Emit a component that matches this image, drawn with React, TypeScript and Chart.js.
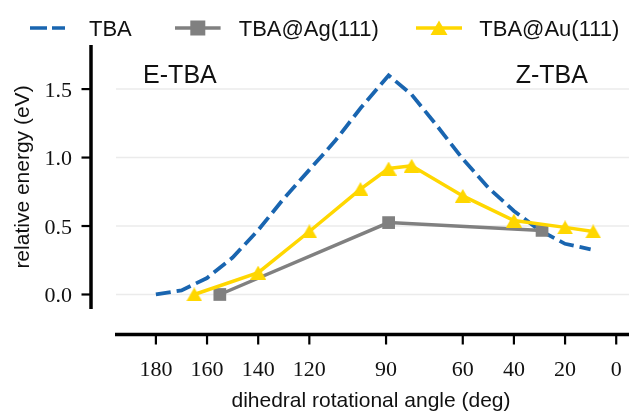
import React, { useEffect, useRef } from 'react';
import { Chart, registerables } from 'chart.js';

Chart.register(...registerables);

// ---- data ----
const seriesNames = ['TBA', 'TBA@Ag(111)', 'TBA@Au(111)'];
const tbaAngles = [180, 170, 160, 150, 140, 130, 120, 110, 100, 89, 80, 70, 60, 50, 40, 30, 20, 10];
const tbaEnergy = [0.0, 0.03, 0.12, 0.27, 0.47, 0.7, 0.91, 1.12, 1.36, 1.6, 1.46, 1.23, 0.99, 0.78, 0.61, 0.47, 0.37, 0.33];
const agAngles = [155, 89, 29];
const agEnergy = [0.0, 0.525, 0.468];
const auAngles = [165, 140, 120, 100, 89, 80, 60, 40, 20, 9];
const auEnergy = [0.0, 0.16, 0.46, 0.77, 0.92, 0.94, 0.72, 0.54, 0.49, 0.46];
const xTickValues = [180, 160, 140, 120, 90, 60, 40, 20, 0];
const yTickValues = [0, 0.5, 1.0, 1.5];
const yTickLabels = ['0.0', '0.5', '1.0', '1.5'];
const xTitle = 'dihedral rotational angle (deg)';
const yTitle = 'relative energy (eV)';
const annotationTexts = ['E-TBA', 'Z-TBA'];
const annotationX = [185, 39.3];
const annotationY = [1.545, 1.545];

const BLUE = '#1965B0';
const GRAY = '#808080';
const GOLD = '#FFD700';
const TEXT = '#111111';

function makeTriangle(w: number, h: number, color: string) {
  const c = document.createElement('canvas');
  c.width = w;
  c.height = h;
  const g = c.getContext('2d')!;
  g.fillStyle = color;
  g.beginPath();
  g.moveTo(w / 2, 0);
  g.lineTo(w, h);
  g.lineTo(0, h);
  g.closePath();
  g.fill();
  return c;
}

const axesPlugin = {
  id: 'customAxes',
  beforeDatasetsDraw(chart: any) {
    const { ctx, chartArea, scales } = chart;
    const ys = scales.y;
    ctx.save();
    ctx.strokeStyle = '#ebebeb';
    ctx.lineWidth = 1.5;
    yTickValues.forEach((v) => {
      const py = ys.getPixelForValue(v);
      ctx.beginPath();
      ctx.moveTo(chartArea.left, py);
      ctx.lineTo(chartArea.right, py);
      ctx.stroke();
    });
    ctx.restore();
  },
  afterDraw(chart: any) {
    const { ctx, chartArea, scales } = chart;
    const xs = scales.x;
    const ys = scales.y;
    const spineX = chartArea.left - 25;
    const spineY = chartArea.bottom + 25.5;
    ctx.save();
    ctx.strokeStyle = '#000';
    ctx.fillStyle = TEXT;
    ctx.setLineDash([]);

    // spines
    ctx.lineWidth = 3.5;
    ctx.beginPath();
    ctx.moveTo(spineX, chartArea.top);
    ctx.lineTo(spineX, chartArea.bottom);
    ctx.stroke();
    ctx.beginPath();
    ctx.moveTo(chartArea.left - 1, spineY);
    ctx.lineTo(chartArea.right, spineY);
    ctx.stroke();

    // ticks
    ctx.lineWidth = 2.2;
    yTickValues.forEach((v) => {
      const py = ys.getPixelForValue(v);
      ctx.beginPath();
      ctx.moveTo(spineX - 9.5, py);
      ctx.lineTo(spineX, py);
      ctx.stroke();
    });
    xTickValues.forEach((v) => {
      const px = xs.getPixelForValue(v);
      ctx.beginPath();
      ctx.moveTo(px, spineY);
      ctx.lineTo(px, spineY + 10);
      ctx.stroke();
    });

    // tick labels
    ctx.font = '22px "Liberation Serif"';
    ctx.textBaseline = 'alphabetic';
    ctx.textAlign = 'right';
    yTickValues.forEach((v, i) => {
      const py = ys.getPixelForValue(v);
      ctx.fillText(yTickLabels[i], spineX - 19, py + 7.5);
    });
    ctx.textAlign = 'center';
    xTickValues.forEach((v) => {
      const px = xs.getPixelForValue(v);
      ctx.fillText(String(v), px, spineY + 41);
    });

    // axis titles
    ctx.font = '21px "Liberation Sans"';
    ctx.textAlign = 'center';
    ctx.fillText(xTitle, (chartArea.left + chartArea.right) / 2 - 1.5, 407);
    ctx.save();
    ctx.translate(28.5, (chartArea.top + chartArea.bottom) / 2);
    ctx.rotate(-Math.PI / 2);
    ctx.fillText(yTitle, 0, 0);
    ctx.restore();

    // annotations
    ctx.font = '25px "Liberation Sans"';
    ctx.textAlign = 'left';
    annotationTexts.forEach((t, i) => {
      ctx.fillText(t, xs.getPixelForValue(annotationX[i]), ys.getPixelForValue(annotationY[i]));
    });

    // legend
    const ly = 28;
    ctx.lineWidth = 3.5;
    ctx.strokeStyle = BLUE;
    ctx.setLineDash([17, 5]);
    ctx.beginPath();
    ctx.moveTo(30, ly);
    ctx.lineTo(65, ly);
    ctx.stroke();
    ctx.setLineDash([]);
    ctx.strokeStyle = GRAY;
    ctx.beginPath();
    ctx.moveTo(175, ly);
    ctx.lineTo(220.6, ly);
    ctx.stroke();
    ctx.fillStyle = GRAY;
    ctx.fillRect(197.8 - 7.5, ly - 7.5, 15, 15);
    ctx.strokeStyle = GOLD;
    ctx.beginPath();
    ctx.moveTo(416, ly);
    ctx.lineTo(462, ly);
    ctx.stroke();
    ctx.fillStyle = GOLD;
    ctx.beginPath();
    ctx.moveTo(439, ly - 7.5);
    ctx.lineTo(447.5, ly + 7);
    ctx.lineTo(430.5, ly + 7);
    ctx.closePath();
    ctx.fill();

    ctx.fillStyle = TEXT;
    ctx.font = '22px "Liberation Sans"';
    ctx.textAlign = 'left';
    ctx.fillText(seriesNames[0], 89, 36);
    ctx.fillText(seriesNames[1], 238.7, 36);
    ctx.fillText(seriesNames[2], 479.3, 36);

    ctx.restore();
  },
};

export default function App() {
  const canvasRef = useRef<HTMLCanvasElement | null>(null);

  useEffect(() => {
    document.body.style.margin = '0';
    const canvas = canvasRef.current;
    if (!canvas) return;
    const tri = makeTriangle(16, 14, GOLD);
    const toPts = (xs: number[], ys: number[]) => xs.map((x, i) => ({ x, y: ys[i] }));
    const chart = new Chart(canvas, {
      type: 'line',
      data: {
        datasets: [
          {
            label: seriesNames[0],
            data: toPts(tbaAngles, tbaEnergy),
            borderColor: BLUE,
            borderWidth: 3.8,
            borderDash: [15, 6],
            pointRadius: 0,
            fill: false,
            tension: 0,
            order: 3,
            clip: false,
          },
          {
            label: seriesNames[1],
            data: toPts(agAngles, agEnergy),
            borderColor: GRAY,
            backgroundColor: GRAY,
            borderWidth: 3.5,
            pointStyle: 'rect',
            pointRadius: 9,
            pointBorderWidth: 0,
            pointBackgroundColor: GRAY,
            fill: false,
            tension: 0,
            order: 2,
            clip: false,
          },
          {
            label: seriesNames[2],
            data: toPts(auAngles, auEnergy),
            borderColor: GOLD,
            backgroundColor: GOLD,
            borderWidth: 3.5,
            pointStyle: tri as any,
            pointRadius: 8,
            fill: false,
            tension: 0,
            order: 1,
            clip: false,
          },
        ] as any,
      },
      options: {
        responsive: false,
        animation: false,
        events: [],
        devicePixelRatio: 1,
        layout: { autoPadding: false, padding: { left: 116, right: 0, top: 45, bottom: 102 } },
        scales: {
          x: { type: 'linear', min: -5, max: 195.6, reverse: true, display: false },
          y: { type: 'linear', min: -0.106, max: 1.822, display: false },
        },
        plugins: {
          legend: { display: false },
          tooltip: { enabled: false },
          title: { display: false },
        },
      } as any,
      plugins: [axesPlugin],
    });
    return () => chart.destroy();
  }, []);

  return (
    <div style={{ position: 'absolute', left: 0, top: 0, width: 629, height: 411, background: '#fff' }}>
      <canvas ref={canvasRef} width={629} height={411} />
    </div>
  );
}
